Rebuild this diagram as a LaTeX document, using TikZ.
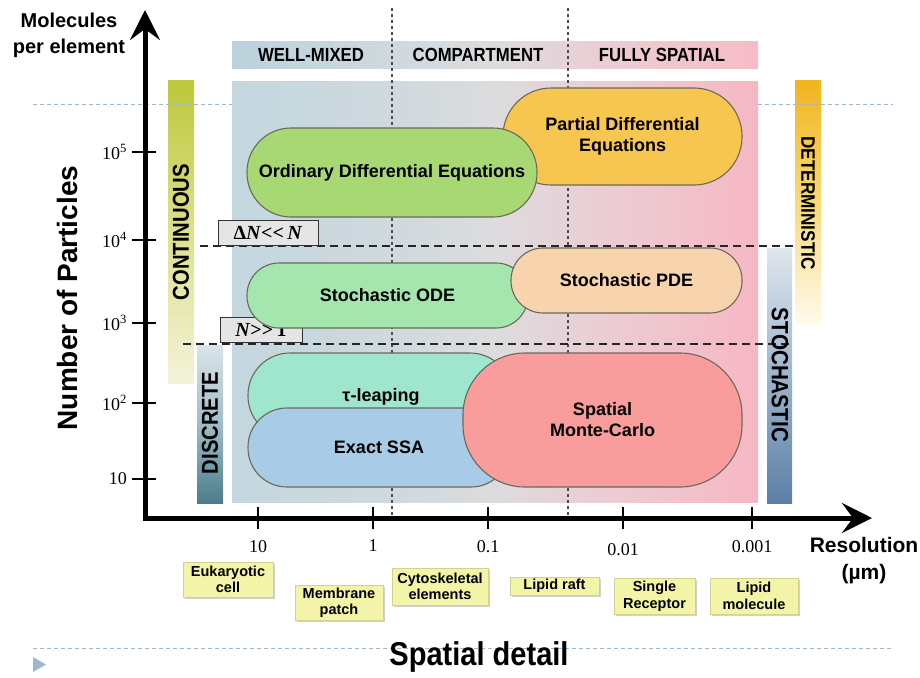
\documentclass[tikz,border=0pt]{standalone}
\usepackage{fontspec}
\newfontfamily\arial{Liberation Sans}
\newfontfamily\condf[FakeStretch=0.88]{Liberation Sans}
\newfontfamily\timesf{Liberation Serif}
\usetikzlibrary{arrows.meta,shadows}
\definecolor{bgA}{HTML}{C3D7DF}
\definecolor{bgB}{HTML}{CFD9DE}
\definecolor{bgC}{HTML}{DCDCDE}
\definecolor{bgD}{HTML}{EDCBD2}
\definecolor{bgE}{HTML}{F6B7C4}
\definecolor{hdA}{HTML}{BAD2DC}
\definecolor{hdE}{HTML}{F6BCC8}
\definecolor{odeC}{HTML}{A8D874}
\definecolor{pdeC}{HTML}{F7C650}
\definecolor{sodeC}{HTML}{A5E6AE}
\definecolor{spdeC}{HTML}{F8D4AE}
\definecolor{tauC}{HTML}{A0E6CE}
\definecolor{ssaC}{HTML}{A8CCE8}
\definecolor{smcC}{HTML}{F89C9C}
\definecolor{bordC}{HTML}{6A6A5A}
\definecolor{dashblue}{HTML}{9DB8D0}
\definecolor{labfill}{HTML}{F3F4A8}
\definecolor{labdraw}{HTML}{D2D290}
\definecolor{conA}{HTML}{BDC83A}
\definecolor{conB}{HTML}{DCE08C}
\definecolor{conC}{HTML}{F3F3DA}
\definecolor{disA}{HTML}{D9E5EA}
\definecolor{disB}{HTML}{9FBCC6}
\definecolor{disC}{HTML}{4C7C8C}
\definecolor{detA}{HTML}{F2B41E}
\definecolor{detB}{HTML}{F8D977}
\definecolor{detC}{HTML}{FFFBEE}
\definecolor{stoA}{HTML}{DFE6EE}
\definecolor{stoB}{HTML}{9DB3CB}
\definecolor{stoC}{HTML}{5B80A6}
\pgfdeclarehorizontalshading{bgshade}{100bp}{color(0bp)=(bgA); color(25bp)=(bgA); color(40bp)=(bgB); color(50bp)=(bgC); color(62bp)=(bgD); color(75bp)=(bgE); color(100bp)=(bgE)}
\pgfdeclarehorizontalshading{hdshade}{100bp}{color(0bp)=(hdA); color(25bp)=(hdA); color(40bp)=(bgB); color(50bp)=(bgC); color(62bp)=(bgD); color(75bp)=(hdE); color(100bp)=(hdE)}
\begin{document}
\begin{tikzpicture}[x=1pt,y=-1pt,
  stadium/.style={draw=bordC, line width=1.1pt, align=center, inner sep=0pt,
    font=\arial\bfseries\fontsize{18}{21}\selectfont},
  condbox/.style={draw=black!80, fill=black!10, line width=1pt, inner sep=0pt,
    minimum height=25pt, text height=14pt, text depth=0pt,
    font=\timesf\bfseries\fontsize{20}{20}\selectfont,
    drop shadow={shadow xshift=1.2pt, shadow yshift=-1.2pt, opacity=.5}},
  labbox/.style={draw=labdraw, fill=labfill, line width=0.6pt, inner sep=0pt, align=center,
    font=\arial\bfseries\fontsize{14.5}{16.5}\selectfont,
    drop shadow={shadow xshift=1.5pt, shadow yshift=-1.5pt, opacity=.35}},
  bartext/.style={font=\condf\bfseries, inner sep=0pt},
  hdtext/.style={font=\condf\bfseries\fontsize{19}{19}\selectfont, inner sep=0pt},
  ticklab/.style={font=\timesf\fontsize{18}{18}\selectfont, inner sep=0pt},
  bluedash/.style={dashblue, line width=1pt, dash pattern=on 4pt off 3pt},
  blackdash/.style={black!85, line width=1.4pt, dash pattern=on 8pt off 5pt},
  vdot/.style={black!70, line width=1.1pt, dash pattern=on 3pt off 3pt},
  axis/.style={line width=5pt, -{Stealth[length=30pt,width=30pt,inset=11pt]}},
  tick/.style={line width=2.5pt}
]
\useasboundingbox (0,0) rectangle (920,677);
\fill[white] (0,0) rectangle (920,677);

% coordinates for free ends
\coordinate (bdL) at (33,104);
\coordinate (bdLe) at (232,104);
\coordinate (bdR) at (758,104);
\coordinate (bdRe) at (893,104);
\coordinate (bbL) at (33,648);
\coordinate (bbR) at (893,648);

% side bars
\shade[top color=conA, bottom color=conC, middle color=conB] (168,80) rectangle (194,383);
\shade[top color=disA, bottom color=disC, middle color=disB] (197,345) rectangle (223,503);
\shade[top color=detA, bottom color=detC, middle color=detB] (795,80) rectangle (821,324);
\shade[top color=stoA, bottom color=stoC, middle color=stoB] (767,248) rectangle (792,503);

% light blue dashed lines
\draw[bluedash] (bdL) -- (bdLe);
\draw[bluedash] (bdR) -- (bdRe);
\draw[bluedash] (bbL) -- (bbR);
\fill[dashblue] (33,657) -- (33,672) -- (46,664.5) -- cycle;

% header band and main background
\shade[shading=hdshade] (232,42) rectangle (758,68);
\shade[shading=bgshade] (232,81) rectangle (758,502);

\node[hdtext] (wm) at (311,55) {WELL-MIXED};
\node[hdtext] (cp) at (478,55) {COMPARTMENT};
\node[hdtext] (fs) at (662,55) {FULLY SPATIAL};

% vertical dotted separators
\coordinate (v1t) at (392,8);
\coordinate (v1b) at (392,516);
\coordinate (v2t) at (568,8);
\coordinate (v2b) at (568,516);
\draw[vdot] (v1t) -- (v1b);
\draw[vdot] (v2t) -- (v2b);

% horizontal black dashed thresholds
\coordinate (d1a) at (200,246);
\coordinate (d1b) at (797,246);
\coordinate (d2a) at (183,344);
\coordinate (d2b) at (790,344);
\draw[blackdash] (d1a) -- (d1b);
\draw[blackdash] (d2a) -- (d2b);

\node[condbox, minimum width=100pt] (c1) at (268,232.5) {Δ\textit{N}<<\,\textit{N}};
\node[condbox, minimum width=82pt] (c2) at (261,329.5) {\textit{N}>>\,1};

% bar texts
\node[bartext, rotate=90, font=\condf\bfseries\fontsize{23}{23}\selectfont] (cont) at (181,232) {CONTINUOUS};
\node[bartext, rotate=90, font=\condf\bfseries\fontsize{23}{23}\selectfont] (disc) at (210,423) {DISCRETE};
\node[bartext, rotate=-90, font=\condf\bfseries\fontsize{19.5}{19.5}\selectfont] (det) at (808,203) {DETERMINISTIC};
\node[bartext, rotate=-90, font=\condf\bfseries\fontsize{23.5}{23.5}\selectfont] (sto) at (780,375) {STOCHASTIC};

% method shapes
\node[stadium, fill=pdeC, minimum width=239pt, minimum height=97pt, rounded corners=48pt] (pde) at (622.5,136.5) {Partial Differential\\Equations};
\node[stadium, fill=odeC, minimum width=290pt, minimum height=89pt, rounded corners=44pt] (ode) at (392,172.5) {Ordinary Differential Equations};
\node[stadium, fill=sodeC, minimum width=281pt, minimum height=65pt, rounded corners=32pt] (sode) at (387.5,295.5) {Stochastic ODE};
\node[stadium, fill=tauC, minimum width=264pt, minimum height=85pt, rounded corners=42pt] (tau) at (380,395.5) {};
\node[font=\arial\bfseries\fontsize{18}{21}\selectfont, inner sep=0pt] (taut) at (381,397) {τ-leaping};
\node[stadium, fill=spdeC, minimum width=231pt, minimum height=65pt, rounded corners=32pt] (spde) at (626.5,280.5) {Stochastic PDE};
\node[stadium, fill=ssaC, minimum width=262pt, minimum height=79pt, rounded corners=39pt] (ssa) at (379,447.5) {Exact SSA};
\node[stadium, fill=smcC, minimum width=279pt, minimum height=134pt, rounded corners=62pt] (smc) at (602.5,420) {Spatial\\Monte-Carlo};

% axes
\coordinate (o) at (145,520);
\coordinate (ytop) at (145,10);
\coordinate (xo) at (143,518);
\coordinate (xend) at (872,518);
\draw[axis] (o) -- (ytop);
\draw[axis] (xo) -- (xend);

% y ticks
\foreach \yy/\lab/\nm in {152/10\textsuperscript{5}/a, 240/10\textsuperscript{4}/b, 323/10\textsuperscript{3}/c, 403/10\textsuperscript{2}/d, 479/10/e} {
  \coordinate (yt\nm l) at (132,\yy);
  \coordinate (yt\nm r) at (156,\yy);
  \draw[tick] (yt\nm l) -- (yt\nm r);
  \node[ticklab, anchor=east] (yl\nm) at (127,\yy) {\lab};
}
% x ticks
\foreach \xx/\lab/\nm/\ly in {258/10/a/547, 373/1/b/546, 488/0.1/c/547, 623/0.01/d/550, 752/0.001/e/547} {
  \coordinate (xt\nm t) at (\xx,507);
  \coordinate (xt\nm b) at (\xx,529);
  \draw[tick] (xt\nm t) -- (xt\nm b);
  \node[ticklab] (xl\nm) at (\xx,\ly) {\lab};
}

% axis titles
\node[font=\arial\bfseries\fontsize{20}{26}\selectfont, align=center, inner sep=0pt] (mpe) at (69,35) {Molecules\\per element};
\node[font=\arial\bfseries\fontsize{28}{28}\selectfont, rotate=90, inner sep=0pt] (nop) at (67,298) {Number of Particles};
\node[font=\arial\bfseries\fontsize{21}{27}\selectfont, align=center, inner sep=0pt] (res) at (864,561) {Resolution\\(µm)};
\node[font=\condf\bfseries\fontsize{33}{33}\selectfont, inner sep=0pt] (sd) at (479,657) {Spatial detail};

% bottom labels
\node[labbox, minimum width=90pt, minimum height=35pt] (l1) at (228,579.5) {Eukaryotic\\cell};
\node[labbox, minimum width=88pt, minimum height=35pt] (l2) at (339,602.5) {Membrane\\patch};
\node[labbox, minimum width=96pt, minimum height=37pt] (l3) at (440,586.5) {Cytoskeletal\\elements};
\node[labbox, minimum width=89pt, minimum height=18pt] (l4) at (554.5,586) {Lipid raft};
\node[labbox, minimum width=81pt, minimum height=36pt] (l5) at (654.5,596) {Single\\Receptor};
\node[labbox, minimum width=88pt, minimum height=36pt] (l6) at (754,596) {Lipid\\molecule};
\end{tikzpicture}
\end{document}
